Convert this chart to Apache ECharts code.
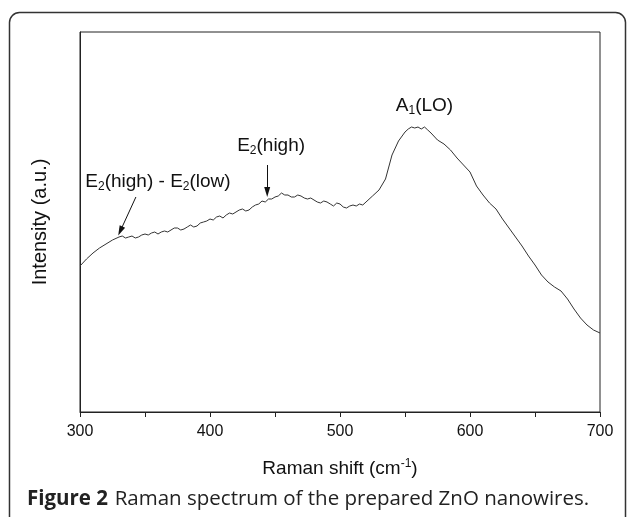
<!DOCTYPE html>
<html>
<head>
<meta charset="utf-8">
<script src="https://cdn.jsdelivr.net/npm/echarts@6/dist/echarts.min.js"></script>
<style>
html,body{margin:0;padding:0;background:#fff;}
#c{width:629px;height:517px;}
</style>
</head>
<body>
<div id="c"></div>
<script>
// Raman shift (cm^-1)
var shift = [300,305,310,315,320,325,
330,332.5,335,337.5,340,342.5,345,347.5,350,352.5,355,357.5,360,362.5,365,367.5,370,372.5,375,377.5,380,382.5,385,387.5,390,392.5,395,397.5,
400,402.5,405,407.5,410,412.5,415,417.5,420,422.5,425,427.5,430,432.5,435,437.5,440,442.5,445,447.5,450,452.5,455,457.5,460,462.5,465,467.5,470,472.5,475,477.5,480,482.5,485,487.5,490,492.5,495,497.5,
500,502.5,505,507.5,510,512.5,515,517.5,520,
525,530,535,540,545,550,552.5,555,557.5,560,562.5,565,567.5,570,575,580,585,590,595,
600,605,610,615,620,625,630,635,640,645,650,655,660,665,670,675,680,685,690,695,700];
// Intensity (a.u.)
var intensity = [146,153,159,164,168,172,
175,176,174,175,176,174,175,177,178,177,179,180,178,180,181,180,182,184,184,182,183,185,187,185,186,189,190,191,
193,192,195,196,194,197,199,198,200,202,203,201,202,205,207,208,211,210,213,213,215,216,219,217,217,215,215,217,216,214,213,214,212,210,209,211,210,208,206,209,
208,205,204,206,207,206,208,207,210,
216,222,233,257,271,280,283,285,284,285,283,285,282,279,272,268,262,254,247,
240,226,217,209,203,193,184,175,166,156,147,137,130,125,121,113,103,94,87,82,79];
var xTicks = [300,400,500,600,700];
// annotation anchors [x, intensity]
var ann1Text = [360, 230];
var ann1Arrow = [[343, 215], [331, 181]];
var ann2Text = [447, 266];
var ann2Arrow = [[444, 247], [444, 220]];
var ann3Text = [565, 306];

var chart = echarts.init(document.getElementById('c'), null, {renderer:'canvas'});
var data = shift.map(function(x,i){return [x,intensity[i]];});
var FF = 'Liberation Sans, Arial, sans-serif';
var rich = {
  a:{fontFamily:FF, fontSize:19, color:'#111', lineHeight:22},
  s:{fontFamily:FF, fontSize:12, color:'#111', lineHeight:10, verticalAlign:'bottom'}
};
function lab(pos, fmt){
  return {coord:pos, symbol:'circle', symbolSize:1, value:0,
    itemStyle:{color:'rgba(0,0,0,0)'},
    label:{show:true, position:'inside', formatter:fmt, rich:rich}};
}
chart.setOption({
  animation:false,
  grid:{left:80, right:29, top:32, bottom:105, show:true, borderColor:'#222', borderWidth:1},
  xAxis:{type:'value', min:300, max:700, interval:100,
    axisLine:{lineStyle:{color:'#222', width:1}},
    axisTick:{show:true, length:5, lineStyle:{color:'#222'}},
    minorTick:{show:true, splitNumber:2, length:5, lineStyle:{color:'#222'}},
    splitLine:{show:false},
    axisLabel:{fontFamily:FF, fontSize:16, color:'#111', margin:12,
      formatter:function(v){return xTicks.indexOf(v)>=0? String(v):'';}},
    name:'{a|Raman shift (cm}{p|-1}{a|)}', nameLocation:'middle', nameGap:46,
    nameTextStyle:{rich:{a:{fontFamily:FF,fontSize:19,color:'#111',lineHeight:22},
      p:{fontFamily:FF,fontSize:12,color:'#111',lineHeight:22,verticalAlign:'top'}}}
  },
  yAxis:{type:'value', min:0, max:380,
    axisLine:{show:true, lineStyle:{color:'#222', width:1}},
    axisTick:{show:false}, axisLabel:{show:false}, splitLine:{show:false},
    name:'Intensity (a.u.)', nameLocation:'middle', nameGap:30,
    nameTextStyle:{fontFamily:FF, fontSize:20, color:'#111'}
  },
  series:[{
    type:'line', data:data, symbol:'none', smooth:false,
    lineStyle:{color:'#333', width:1},
    markPoint:{silent:true, data:[
      lab(ann1Text, '{a|E}{s|2}{a|(high) - E}{s|2}{a|(low)}'),
      lab(ann2Text, '{a|E}{s|2}{a|(high)}'),
      lab(ann3Text, '{a|A}{s|1}{a|(LO)}')
    ]},
    markLine:{silent:true, symbol:['none','triangle'], symbolSize:[6,10],
      lineStyle:{color:'#111', width:1, type:'solid'}, label:{show:false},
      data:[
        [{coord:ann1Arrow[0]},{coord:ann1Arrow[1]}],
        [{coord:ann2Arrow[0]},{coord:ann2Arrow[1]}]
      ]}
  }],
  graphic:[
    {type:'rect', shape:{x:9.5, y:12.5, width:616, height:530, r:10},
      style:{fill:'none', stroke:'#333', lineWidth:1.5}, z:100},
    {type:'text', left:27, top:489, style:{
      text:'{b|Figure 2}  {n|Raman spectrum of the prepared ZnO nanowires.}',
      rich:{b:{fontFamily:'Open Sans', fontWeight:'bold', fontSize:20.5, fill:'#222'},
            n:{fontFamily:'Open Sans', fontSize:20.5, fill:'#222'}}}}
  ]
});
</script>
</body>
</html>
